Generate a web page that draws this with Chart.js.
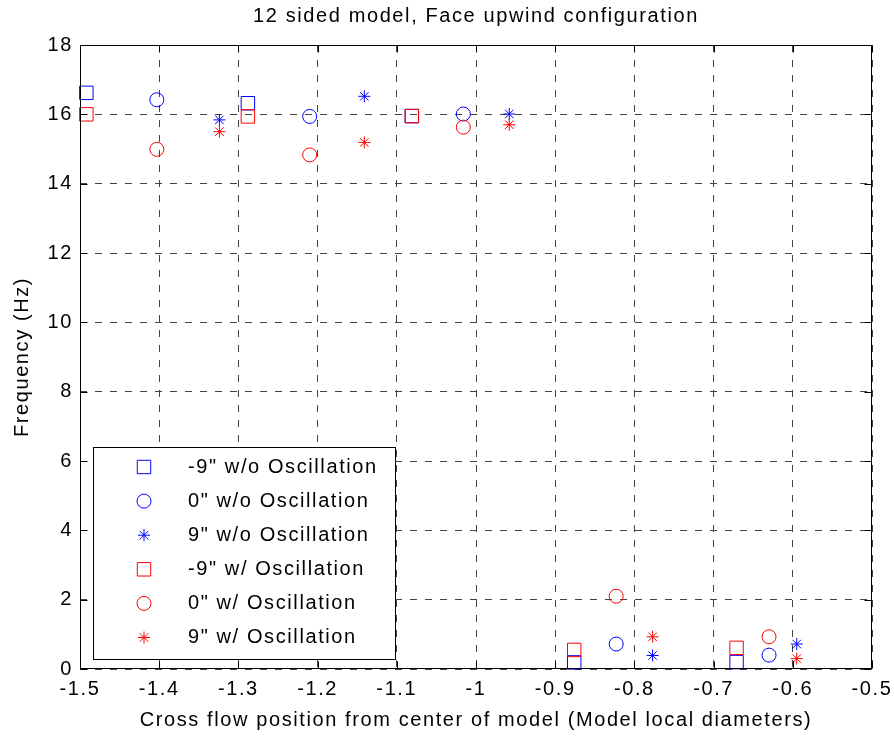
<!DOCTYPE html>
<html><head><meta charset="utf-8">
<script src="https://cdn.jsdelivr.net/npm/chart.js@4"></script>
<style>html,body{margin:0;padding:0;background:#fff;}#wrap{width:894px;height:738px;}</style>
</head><body><div id="wrap"><canvas id="c" width="894" height="738"></canvas></div>
<script>
const seriesLabels = ['-9" w/o Oscillation', '0" w/o Oscillation', '9" w/o Oscillation',
                      '-9" w/ Oscillation', '0" w/ Oscillation', '9" w/ Oscillation'];
const xSquares = [-1.492, -1.288, -1.081, -0.876, -0.671];
const xCircles = [-1.403, -1.210, -1.016, -0.823, -0.630];
const xStars   = [-1.324, -1.141, -0.958, -0.777, -0.595];
const yNeg9WoOsc = [16.62, 16.32, 15.95, 0.19, 0.20];
const y0WoOsc    = [16.42, 15.94, 16.01, 0.72, 0.40];
const y9WoOsc    = [15.84, 16.52, 16.01, 0.39, 0.72];
const yNeg9WOsc  = [16.00, 15.94, 15.95, 0.55, 0.61];
const y0WOsc     = [14.99, 14.83, 15.63, 2.10, 0.93];
const y9WOsc     = [15.50, 15.19, 15.70, 0.93, 0.30];
const xTickValues = [-1.5, -1.4, -1.3, -1.2, -1.1, -1.0, -0.9, -0.8, -0.7, -0.6, -0.5];
const xTickLabels = ['-1.5', '-1.4', '-1.3', '-1.2', '-1.1', '-1', '-0.9', '-0.8', '-0.7', '-0.6', '-0.5'];
const yTickValues = [0, 2, 4, 6, 8, 10, 12, 14, 16, 18];
const yTickLabels = ['0', '2', '4', '6', '8', '10', '12', '14', '16', '18'];
const titleText = '12 sided model, Face upwind configuration';
const xTitle = 'Cross flow position from center of model (Model local diameters)';
const yTitle = 'Frequency (Hz)';

const FONT = '"Liberation Sans", Arial, Helvetica, sans-serif';
const BLUE = 'rgb(0,0,255)', RED = 'rgb(255,0,0)';
const LS = '1.6px';

function pts(xs, ys) { return xs.map((x, i) => ({x: x, y: ys[i]})); }
function ds(label, xs, ys, color, style, r, order) {
  return {label: label, data: pts(xs, ys), showLine: false, pointStyle: style, pointRadius: r,
    pointBorderColor: color, pointBackgroundColor: 'rgba(0,0,0,0)', pointBorderWidth: 1,
    borderColor: color, backgroundColor: 'rgba(0,0,0,0)', order: order, clip: false};
}
const datasets = [
  ds(seriesLabels[0], xSquares, yNeg9WoOsc, BLUE, 'rect', 9.5, 1),
  ds(seriesLabels[1], xCircles, y0WoOsc, BLUE, 'circle', 7, 1),
  ds(seriesLabels[2], xStars, y9WoOsc, BLUE, 'star', 6, 1),
  ds(seriesLabels[3], xSquares, yNeg9WOsc, RED, 'rect', 9.5, 0),
  ds(seriesLabels[4], xCircles, y0WOsc, RED, 'circle', 7, 0),
  ds(seriesLabels[5], xStars, y9WOsc, RED, 'star', 6, 0)
];

const spacingPlugin = {
  id: 'spacing',
  beforeUpdate(chart) { chart.ctx.letterSpacing = LS; },
  beforeDraw(chart) { chart.ctx.letterSpacing = LS; }
};

const boxPlugin = {
  id: 'box',
  afterDatasetsDraw(chart) {
    const {ctx, chartArea: a, scales: {x, y}} = chart;
    ctx.save();
    ctx.setLineDash([]);
    ctx.strokeStyle = '#000';
    ctx.lineWidth = 1;
    const L = Math.round(a.left) + 0.5, R = Math.round(a.right) - 0.5;
    const T = Math.round(a.top) + 0.5, B = Math.round(a.bottom) - 0.5;
    ctx.strokeRect(L, T, R - L, B - T);
    ctx.beginPath();
    xTickValues.forEach(v => {
      const p = Math.round(x.getPixelForValue(v)) + 0.5;
      ctx.moveTo(p, B); ctx.lineTo(p, B - 7);
      ctx.moveTo(p, T); ctx.lineTo(p, T + 7);
    });
    yTickValues.forEach(v => {
      const p = Math.round(y.getPixelForValue(v)) + 0.5;
      ctx.moveTo(L, p); ctx.lineTo(L + 7, p);
      ctx.moveTo(R, p); ctx.lineTo(R - 7, p);
    });
    ctx.stroke();
    ctx.restore();
  }
};

function drawMarker(ctx, style, r, cx, cy) {
  ctx.beginPath();
  if (style === 'rect') {
    const s = Math.SQRT1_2 * r;
    ctx.rect(cx - s, cy - s, 2 * s, 2 * s);
  } else if (style === 'circle') {
    ctx.arc(cx, cy, r, 0, Math.PI * 2);
  } else {
    for (let k = 0; k < 4; k++) {
      const ang = k * Math.PI / 4;
      ctx.moveTo(cx - Math.cos(ang) * r, cy - Math.sin(ang) * r);
      ctx.lineTo(cx + Math.cos(ang) * r, cy + Math.sin(ang) * r);
    }
  }
  ctx.stroke();
}

const legendPlugin = {
  id: 'customLegend',
  afterDraw(chart) {
    const {ctx, chartArea: a} = chart;
    const bw = 302, bh = 212;
    const bx = Math.round(a.left + 13), by = Math.round(a.bottom - 10 - bh);
    ctx.save();
    ctx.setLineDash([]);
    ctx.letterSpacing = LS;
    ctx.fillStyle = '#fff';
    ctx.fillRect(bx, by, bw, bh);
    ctx.strokeStyle = '#000';
    ctx.lineWidth = 1;
    ctx.strokeRect(bx + 0.5, by + 0.5, bw, bh);
    chart.data.datasets.forEach((d, i) => {
      const cy = by + 20 + i * 34.1;
      ctx.strokeStyle = d.pointBorderColor;
      ctx.lineWidth = 1;
      drawMarker(ctx, d.pointStyle, d.pointRadius, bx + 51, cy);
      ctx.fillStyle = '#000';
      ctx.font = '20px ' + FONT;
      ctx.textAlign = 'left';
      ctx.textBaseline = 'middle';
      ctx.fillText(d.label, bx + 95, cy);
    });
    ctx.restore();
  }
};

new Chart(document.getElementById('c'), {
  type: 'scatter',
  data: {datasets: datasets},
  options: {
    responsive: false,
    animation: false,
    devicePixelRatio: 1,
    events: [],
    layout: {padding: {left: 0, right: 22, top: 0, bottom: 0}},
    plugins: {
      legend: {display: false},
      tooltip: {enabled: false},
      title: {display: true, text: titleText, color: '#000', fullSize: false,
        font: {family: FONT, size: 20, weight: 'normal'}, padding: {top: 4, bottom: 17}}
    },
    scales: {
      x: {
        type: 'linear', min: -1.5, max: -0.5,
        afterBuildTicks(scale) { scale.ticks = xTickValues.map(v => ({value: v})); },
        afterFit(scale) { scale.height = 69; scale.paddingLeft = 0; scale.paddingRight = 0; },
        ticks: {color: '#000', padding: 8, maxRotation: 0, autoSkip: false,
          font: {family: FONT, size: 20},
          callback: (v, i) => xTickLabels[i]},
        grid: {color: '#444', lineWidth: 1, drawTicks: false},
        border: {display: false, dash: [7, 8]},
        title: {display: true, text: xTitle, color: '#000', font: {family: FONT, size: 20},
          padding: {top: 4, bottom: 6}}
      },
      y: {
        type: 'linear', min: 0, max: 18,
        afterBuildTicks(scale) { scale.ticks = yTickValues.map(v => ({value: v})); },
        afterFit(scale) { scale.width = 80; scale.paddingTop = 0; scale.paddingBottom = 0; },
        ticks: {color: '#000', padding: 7, autoSkip: false,
          font: {family: FONT, size: 20},
          callback: (v, i) => yTickLabels[i]},
        grid: {color: '#444', lineWidth: 1, drawTicks: false},
        border: {display: false, dash: [7, 8]},
        title: {display: true, text: yTitle, color: '#000', font: {family: FONT, size: 20},
          padding: {top: 10, bottom: 4}}
      }
    }
  },
  plugins: [spacingPlugin, boxPlugin, legendPlugin]
});
</script></body></html>
